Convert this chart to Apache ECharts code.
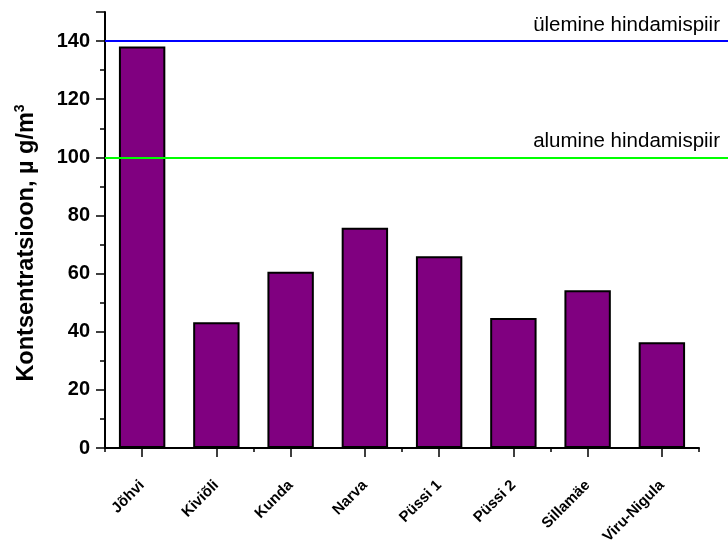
<!DOCTYPE html>
<html><head><meta charset="utf-8">
<script src="https://cdn.jsdelivr.net/npm/echarts@6/dist/echarts.min.js"></script>
<style>html,body{margin:0;padding:0;background:#fff}#c{width:728px;height:557px}</style>
</head><body><div id="c"></div>
<script>
const categories = ['Jõhvi','Kiviõli','Kunda','Narva','Püssi 1','Püssi 2','Sillamäe','Viru-Nigula'];
const values = [138.1, 43.3, 60.6, 75.8, 66.0, 44.7, 54.3, 36.4];
const yTicks = [0, 20, 40, 60, 80, 100, 120, 140];
const limitValues = [140, 100];
const limitNames = ['ülemine hindamispiir', 'alumine hindamispiir'];
const limitColors = ['#0000ff', '#00ff00'];

const chart = echarts.init(document.getElementById('c'), null, {renderer:'canvas'});
const gTop = 12, gBottom = 109;
const option = {
  animation: false,
  grid: [
    {left: 105, right: 29, top: gTop, bottom: gBottom, containLabel: false},
    {left: 105, right: 0, top: gTop, bottom: gBottom, containLabel: false}
  ],
  xAxis: [
    {type:'category', gridIndex:0, data: categories,
     axisLine:{lineStyle:{color:'#000', width:2}},
     axisTick:{show:true, length:4, lineStyle:{color:'#000', width:1.5}},
     axisLabel:{show:false}},
    {type:'category', gridIndex:0, data: categories, position:'bottom',
     axisLine:{show:false},
     axisTick:{show:true, alignWithLabel:true, length:9, lineStyle:{color:'#000', width:1.5}},
     axisLabel:{rotate:45, margin:35, color:'#000', fontFamily:'Liberation Sans, Arial', fontWeight:'bold', fontSize:15}},
    {type:'value', gridIndex:1, min:0, max:1, show:false}
  ],
  yAxis: [
    {type:'value', gridIndex:0, min:0, max:150, interval:20,
     name:'{a|Kontsentratsioon, µ g/m}{s|3}', nameLocation:'middle', nameGap:64,
     nameTextStyle:{rich:{
       a:{fontFamily:'Liberation Sans, Arial', fontWeight:'bold', fontSize:23.5, color:'#000'},
       s:{fontFamily:'Liberation Sans, Arial', fontWeight:'bold', fontSize:14, color:'#000', verticalAlign:'top', padding:[0,0,14,0]}
     }, padding:[0,0,0,-26]},
     axisLine:{show:true, lineStyle:{color:'#000', width:2}},
     axisTick:{show:true, length:9, lineStyle:{color:'#000', width:1.5}},
     minorTick:{show:true, splitNumber:2, length:5, lineStyle:{color:'#000', width:1.5}},
     splitLine:{show:false},
     axisLabel:{color:'#000', fontFamily:'Liberation Sans, Arial', fontWeight:'bold', fontSize:20, margin:15,
       formatter: v => yTicks.includes(v) ? String(v) : ''}},
    {type:'value', gridIndex:1, min:0, max:150, show:false}
  ],
  series: [
    {type:'bar', xAxisIndex:0, yAxisIndex:0, data: values, barWidth:'62.5%',
     itemStyle:{color:'#800080', borderColor:'#000', borderWidth:2}, z:2},
    {type:'line', xAxisIndex:2, yAxisIndex:1, data:[], symbol:'none',
     markLine:{symbol:'none', silent:true,
       data: limitValues.map((v,i)=>({yAxis:v, lineStyle:{color:limitColors[i], width:2, type:'solid'},
         label:{show:true, position:'insideEndTop', formatter:limitNames[i], color:'#000',
           fontFamily:'Liberation Sans, Arial', fontSize:20.5, distance:[8,5]}}))}}
  ]
};
chart.setOption(option);
</script></body></html>
